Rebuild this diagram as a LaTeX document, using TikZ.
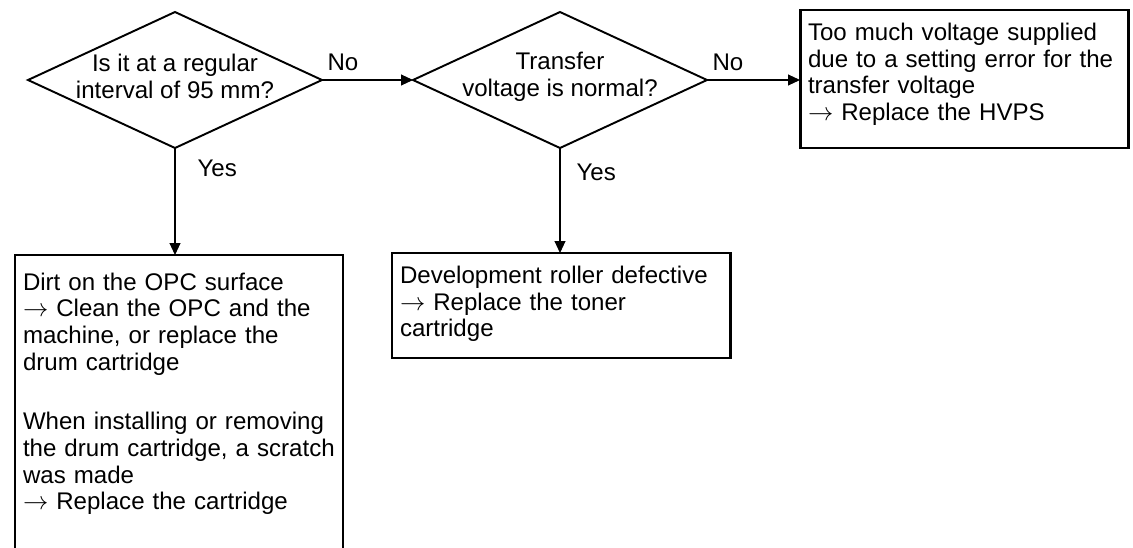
\documentclass[tikz,border=0pt]{standalone}
\usepackage{fontspec}
\setmainfont{Liberation Sans}
\usetikzlibrary{shapes.geometric,arrows.meta}

\begin{document}
\begin{tikzpicture}[font=\fontsize{13.7pt}{15.2pt}\selectfont, >={Triangle[length=2.4mm,width=2.2mm]}]
    \tikzset{
      decide/.style={draw, diamond, line width=1.1pt, minimum width=5.88cm,
                     minimum height=2.72cm, inner sep=0pt, outer sep=0pt},
      qtext/.style={align=center, inner sep=0pt},
      fix/.style={draw, line width=1.7pt, anchor=north west, align=left,
                  inner xsep=1.6mm, inner ysep=2.6mm, text height=3.5mm, outer sep=0pt},
      lbl/.style={anchor=base west, inner sep=0pt},
      conn/.style={->, line width=0.6pt},
    }
    \useasboundingbox (0,0) rectangle (22.66,-10.94);
    \clip (0,0) rectangle (22.66,-10.94);

    \node[decide] (q1) at (3.5,-1.6) {};
    \node[qtext] (q1txt) at (3.5,-1.53) {Is it at a regular\\interval of 95 mm?};
    \node[decide] (q2) at (11.2,-1.6) {};
    \node[qtext] (q2txt) at (11.2,-1.53) {Transfer\\voltage is normal?};

    \node[fix, text width=6.24cm, text depth=1.89cm] (hvps) at (16.0,-0.2)
      {Too much voltage supplied\\due to a setting error for the\\transfer voltage\\$\rightarrow$ Replace the HVPS};
    \node[fix, text width=6.44cm, text depth=1.23cm] (dev) at (7.84,-5.06)
      {Development roller defective\\$\rightarrow$ Replace the toner\\cartridge};
    \node[fix, text width=6.24cm, text height=4.4mm, text depth=6cm] (opc) at (0.3,-5.1)
      {Dirt on the OPC surface\\$\rightarrow$ Clean the OPC and the\\machine, or replace the\\drum cartridge\\[6.6mm]When installing or removing\\the drum cartridge, a scratch\\was made\\$\rightarrow$ Replace the cartridge};

    \draw[conn] (q1.east) -- node[lbl, pos=0, xshift=1mm, yshift=1.9mm] (no1) {No} (q2.west);
    \draw[conn] (q2.east) -- node[lbl, pos=0, xshift=1mm, yshift=1.9mm] (no2) {No} (q2.east -| hvps.west);
    \draw[conn] (q1.south) -- node[lbl, pos=0, xshift=4.4mm, yshift=-5.7mm] (yes1) {Yes} (q1.south |- opc.north);
    \draw[conn] (q2.south) -- node[lbl, pos=0, xshift=3.2mm, yshift=-6.5mm] (yes2) {Yes} (q2.south |- dev.north);
  \end{tikzpicture}
\end{document}
